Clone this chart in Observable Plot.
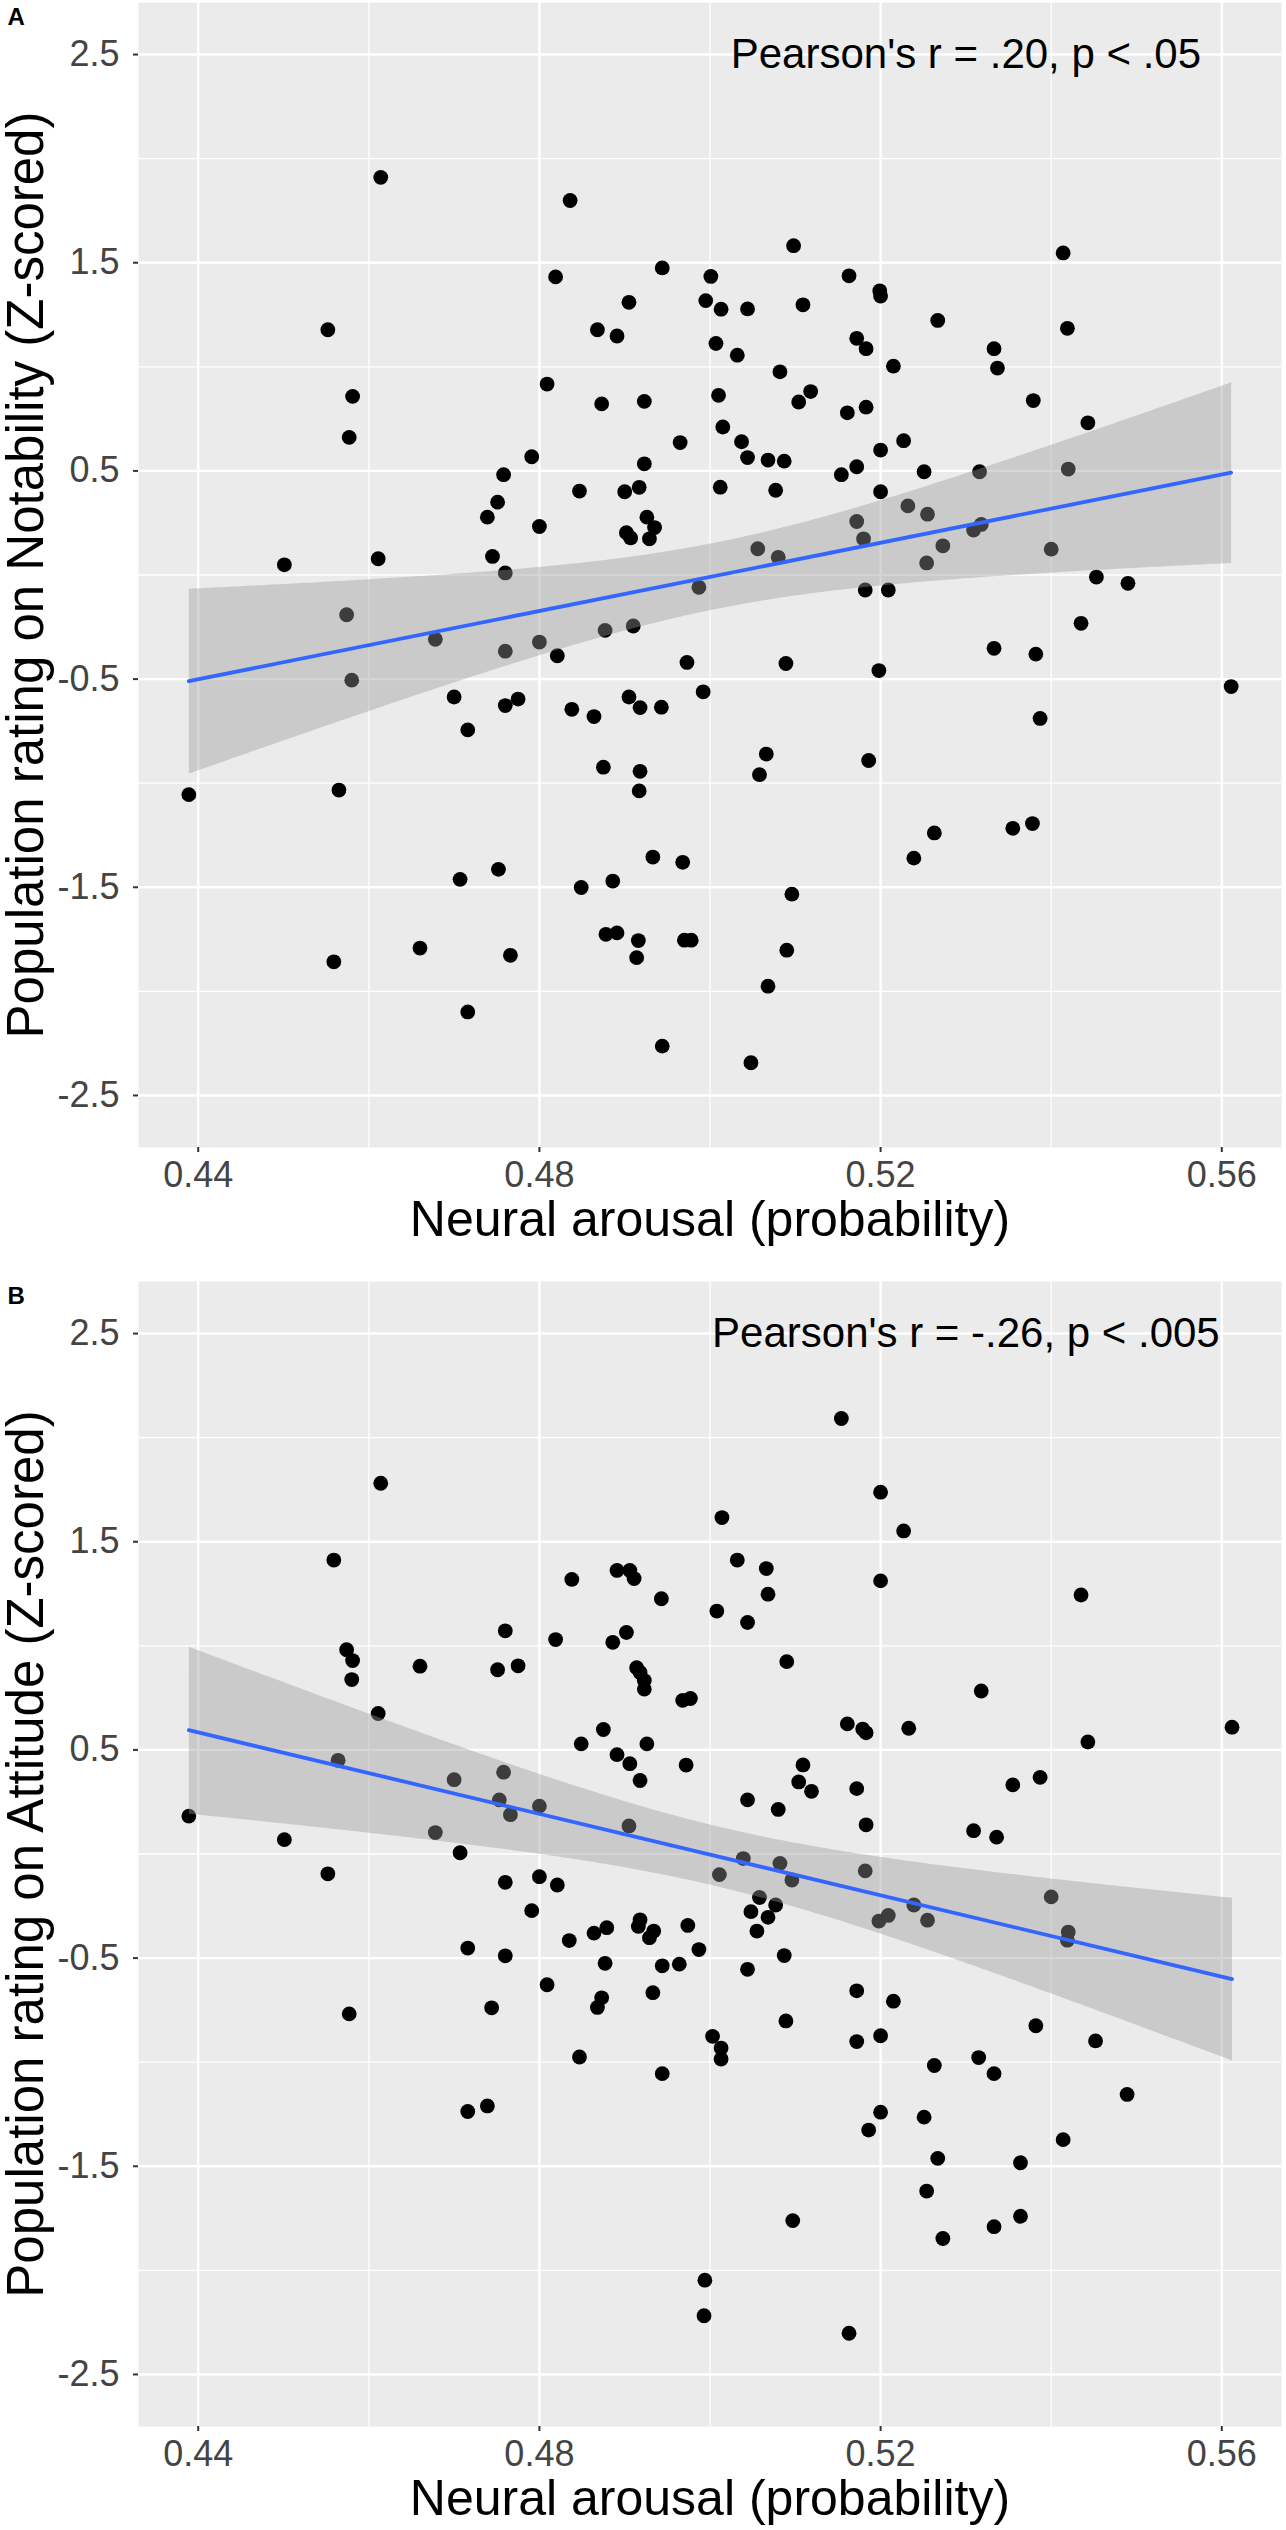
<!DOCTYPE html>
<html>
<head>
<meta charset="utf-8">
<script src="https://cdn.jsdelivr.net/npm/d3@7"></script>
<script src="https://cdn.jsdelivr.net/npm/@observablehq/plot@0.6"></script>
<style>
  html, body { margin: 0; padding: 0; background: #fff; }
  #chart { width: 1286px; }
  #chart svg { display: block; }
</style>
</head>
<body>
<div id="chart"></div>
<script>
// ---- Axis ticks ----
const xTicks = [0.44, 0.48, 0.52, 0.56];
const xMinor = [0.46, 0.50, 0.54];
const yTicks = [-2.5, -1.5, -0.5, 0.5, 1.5, 2.5];
const yMinor = [-2, -1, 0, 1, 2];
const xDomain = [0.433, 0.567];
const yDomain = [-2.75, 2.75];

// ---- Labels ----
const xTitle = "Neural arousal (probability)";
const yTitleA = "Population rating on Notability (Z-scored)";
const yTitleB = "Population rating on Attitude (Z-scored)";
const noteA = "Pearson's r = .20, p < .05";
const noteB = "Pearson's r = -.26, p < .005";
const notePos = [0.53, 2.5];

// ---- Panel A: Notability ----
const notabilityX = [
  0.4614, 0.4836, 0.4944, 0.5001, 0.4819, 0.4905, 0.4995, 0.4868, 0.4891, 0.5007,
  0.4552, 0.4809, 0.4581, 0.4873, 0.4923, 0.5010, 0.4577, 0.4965, 0.4791, 0.4923,
  0.4758, 0.4847, 0.4900, 0.4917, 0.5012, 0.4751, 0.4739, 0.4800, 0.4926, 0.4935,
  0.4902, 0.4907, 0.4929, 0.4501, 0.4611, 0.4745, 0.4760,
  0.5098, 0.5414, 0.5163, 0.5199, 0.5200, 0.5013, 0.5044, 0.5109, 0.5267, 0.5419,
  0.5032, 0.5172, 0.5183, 0.5333, 0.5337, 0.5082, 0.5215, 0.5118, 0.5104, 0.5161,
  0.5183, 0.5379, 0.5443, 0.5015, 0.5037, 0.5044, 0.5068, 0.5087, 0.5200, 0.5227,
  0.5154, 0.5172, 0.5251, 0.5077, 0.5200, 0.5316, 0.5420, 0.5232, 0.5255, 0.5172,
  0.5180, 0.5309, 0.5318, 0.5056, 0.5080, 0.5273, 0.5254, 0.5400, 0.5453, 0.5490,
  0.5182, 0.5209, 0.5435, 0.5333, 0.5382, 0.5089, 0.5198, 0.5611, 0.5387, 0.5066,
  0.5058, 0.5186, 0.5263, 0.5239, 0.5355, 0.5378, 0.5096, 0.5090, 0.5068, 0.5048,
  0.4574, 0.4678, 0.4760, 0.4800, 0.4877, 0.4910, 0.4987, 0.4821, 0.4973, 0.4992,
  0.4580, 0.4700, 0.4760, 0.4775, 0.4716, 0.4838, 0.4864, 0.4905, 0.4918, 0.4943,
  0.4875, 0.4918, 0.4917, 0.4389, 0.4565, 0.4933, 0.4968, 0.4707, 0.4752, 0.4849,
  0.4886, 0.4878, 0.4891, 0.4916, 0.4914, 0.4970, 0.4978, 0.4660, 0.4766, 0.4559,
  0.4716, 0.4944
];
const notabilityY = [
  1.910, 1.799, 1.475, 1.434, 1.432, 1.310, 1.318, 1.178, 1.148, 1.112,
  1.178, 0.917, 0.858, 0.822, 0.834, 0.863, 0.661, 0.636, 0.568, 0.534,
  0.482, 0.403, 0.400, 0.421, 0.422, 0.350, 0.278, 0.233, 0.278, 0.228,
  0.203, 0.178, 0.174, 0.049, 0.078, 0.089, 0.010,
  1.582, 1.547, 1.437, 1.365, 1.340, 1.277, 1.278, 1.298, 1.223, 1.185,
  1.056, 1.137, 1.087, 1.087, 0.994, 0.976, 1.003, 0.881, 0.831, 0.779,
  0.806, 0.838, 0.731, 0.711, 0.640, 0.564, 0.552, 0.547, 0.600, 0.645,
  0.482, 0.520, 0.496, 0.407, 0.400, 0.496, 0.509, 0.332, 0.292, 0.257,
  0.174, 0.216, 0.243, 0.126, 0.085, 0.140, 0.058, 0.124, -0.010, -0.040,
  -0.072, -0.072, -0.232, -0.352, -0.380, -0.425, -0.459, -0.536, -0.689, -0.860,
  -0.959, -0.891, -1.239, -1.360, -1.217, -1.194, -1.533, -1.802, -1.975, -2.343,
  -0.191, -0.309, -0.366, -0.322, -0.266, -0.245, -0.059, -0.388, -0.420, -0.561,
  -0.505, -0.586, -0.627, -0.596, -0.744, -0.645, -0.680, -0.586, -0.637, -0.635,
  -0.923, -0.943, -1.037, -1.055, -1.033, -1.355, -1.380, -1.462, -1.414, -1.501,
  -1.470, -1.726, -1.719, -1.756, -1.838, -1.754, -1.754, -1.792, -1.827, -1.858,
  -2.099, -2.263
];

// ---- Panel B: Attitude ----
const attitudeX = [
  0.4614, 0.4559, 0.4838, 0.4891, 0.4906, 0.4911, 0.4943, 0.5008, 0.4760, 0.4819,
  0.4886, 0.4902, 0.4574, 0.4581, 0.4580, 0.4660, 0.4751, 0.4775, 0.4914, 0.4918,
  0.4923, 0.4923, 0.4968, 0.4977, 0.4611, 0.4875, 0.4849, 0.4926, 0.4891, 0.4906,
  0.4972, 0.4918, 0.4564, 0.4700, 0.4758, 0.4753, 0.4766, 0.4800, 0.4905, 0.4389,
  0.4501, 0.4678, 0.4707,
  0.5154, 0.5200, 0.5014, 0.5227, 0.5032, 0.5066, 0.5200, 0.5068, 0.5435, 0.5044,
  0.5090, 0.5318, 0.5161, 0.5179, 0.5183, 0.5233, 0.5612, 0.5443, 0.5109, 0.5104,
  0.5119, 0.5172, 0.5044, 0.5080, 0.5355, 0.5387, 0.5183, 0.5309, 0.5336, 0.5039,
  0.5082,
  0.4552, 0.4760, 0.4800, 0.4821, 0.4791, 0.4918, 0.4916, 0.4879, 0.4864, 0.4934,
  0.4929, 0.4974, 0.4835, 0.4716, 0.4987, 0.4760, 0.4877, 0.4944, 0.4964, 0.4809,
  0.4933, 0.4873, 0.4868, 0.4744, 0.4577, 0.5003, 0.5013, 0.5013, 0.4847, 0.4944,
  0.4716, 0.4739, 0.4994, 0.4993,
  0.5011, 0.5096, 0.5182, 0.5058, 0.5077, 0.5048, 0.5068, 0.5055, 0.5087, 0.5044,
  0.5089, 0.5172, 0.5215, 0.5172, 0.5200, 0.5198, 0.5209, 0.5239, 0.5255, 0.5400,
  0.5420, 0.5419, 0.5382, 0.5452, 0.5263, 0.5315, 0.5333, 0.5489, 0.5200, 0.5186,
  0.5251, 0.5414, 0.5267, 0.5364, 0.5254, 0.5097, 0.5364, 0.5333, 0.5273, 0.5163
];
const attitudeY = [
  1.781, 1.412, 1.319, 1.362, 1.362, 1.323, 1.226, 1.167, 1.072, 1.030,
  1.017, 1.064, 0.981, 0.929, 0.838, 0.902, 0.885, 0.904, 0.895, 0.872,
  0.833, 0.792, 0.738, 0.747, 0.675, 0.598, 0.529, 0.529, 0.477, 0.434,
  0.427, 0.353, 0.450, 0.357, 0.393, 0.260, 0.189, 0.230, 0.135, 0.182,
  0.069, 0.103, 0.006,
  2.092, 1.738, 1.616, 1.552, 1.412, 1.371, 1.312, 1.248, 1.244, 1.112,
  0.924, 0.783, 0.625, 0.600, 0.582, 0.604, 0.609, 0.538, 0.428, 0.346,
  0.301, 0.314, 0.260, 0.214, 0.332, 0.368, 0.140, 0.112, 0.081, -0.022,
  -0.045,
  -0.095, -0.136, -0.109, -0.149, -0.272, -0.316, -0.348, -0.354, -0.380, -0.370,
  -0.402, -0.343, -0.416, -0.452, -0.459, -0.489, -0.525, -0.537, -0.529, -0.628,
  -0.666, -0.691, -0.737, -0.739, -0.768, -0.876, -0.932, -0.985, -0.975, -1.055,
  -1.237, -1.210, -2.047, -2.218,
  -0.099, -0.125, -0.081, -0.209, -0.245, -0.277, -0.304, -0.370, -0.488, -0.554,
  -0.802, -0.657, -0.707, -0.901, -0.873, -0.322, -0.295, -0.245, -0.318, -0.206,
  -0.375, -0.414, -0.825, -0.898, -1.016, -0.978, -1.055, -1.155, -1.240, -1.326,
  -1.264, -1.372, -1.462, -1.483, -1.619, -1.761, -1.740, -1.790, -1.847, -2.302
];

const FONT = "'Liberation Sans', Arial, Helvetica, sans-serif";

function panel({xs, ys, yTitle, note, letter, height, marginTop, marginBottom}) {
  const data = xs.map((x, i) => ({x, y: ys[i]}));
  return Plot.plot({
    width: 1286,
    height,
    marginLeft: 138,
    marginRight: 5,
    marginTop,
    marginBottom,
    style: {fontFamily: FONT, background: "#fff", overflow: "visible"},
    x: {domain: xDomain},
    y: {domain: yDomain},
    marks: [
      Plot.frame({fill: "#EBEBEB", stroke: "none"}),
      Plot.gridX(xMinor, {stroke: "#fff", strokeOpacity: 1, strokeWidth: 1.3}),
      Plot.gridY(yMinor, {stroke: "#fff", strokeOpacity: 1, strokeWidth: 1.3}),
      Plot.gridX(xTicks, {stroke: "#fff", strokeOpacity: 1, strokeWidth: 2.4}),
      Plot.gridY(yTicks, {stroke: "#fff", strokeOpacity: 1, strokeWidth: 2.4}),
      Plot.axisX(xTicks, {
        tickSize: 5, tickPadding: 9, tickFormat: d => d.toFixed(2),
        fontSize: 36, stroke: "#333333", strokeWidth: 2, fill: "#444444", label: null
      }),
      Plot.axisY(yTicks, {
        tickSize: 5, tickPadding: 14, tickFormat: d => d.toFixed(1),
        fontSize: 36, stroke: "#333333", strokeWidth: 2, fill: "#444444", label: null
      }),
      Plot.dot(data, {x: "x", y: "y", r: 7.4, fill: "#000", stroke: "none"}),
      Plot.linearRegressionY(data, {
        x: "x", y: "y", stroke: "#3366FF", strokeWidth: 3.8,
        fill: "#999999", fillOpacity: 0.4, ci: 0.95
      }),
      Plot.text([note], {
        x: () => notePos[0], y: () => notePos[1], text: d => d,
        fontSize: 42, fill: "#000", textAnchor: "middle", lineAnchor: "middle"
      }),
      Plot.text([xTitle], {
        frameAnchor: "bottom", dy: 72, text: d => d,
        fontSize: 50, fill: "#000", lineAnchor: "middle"
      }),
      Plot.text([yTitle], {
        frameAnchor: "left", dx: -112, rotate: -90, text: d => d,
        fontSize: 51, fill: "#000", lineAnchor: "middle", textAnchor: "middle"
      }),
      Plot.text([letter], {
        frameAnchor: "top-left", dx: -131, dy: 15, text: d => d,
        fontSize: 24, fontWeight: "bold", fill: "#000",
        textAnchor: "start", lineAnchor: "middle"
      })
    ]
  });
}

const chart = document.getElementById("chart");
chart.append(panel({
  xs: notabilityX, ys: notabilityY, yTitle: yTitleA, note: noteA, letter: "A",
  height: 1278, marginTop: 2, marginBottom: 131
}));
chart.append(panel({
  xs: attitudeX, ys: attitudeY, yTitle: yTitleB, note: noteB, letter: "B",
  height: 1252, marginTop: 3, marginBottom: 104
}));
</script>
</body>
</html>
